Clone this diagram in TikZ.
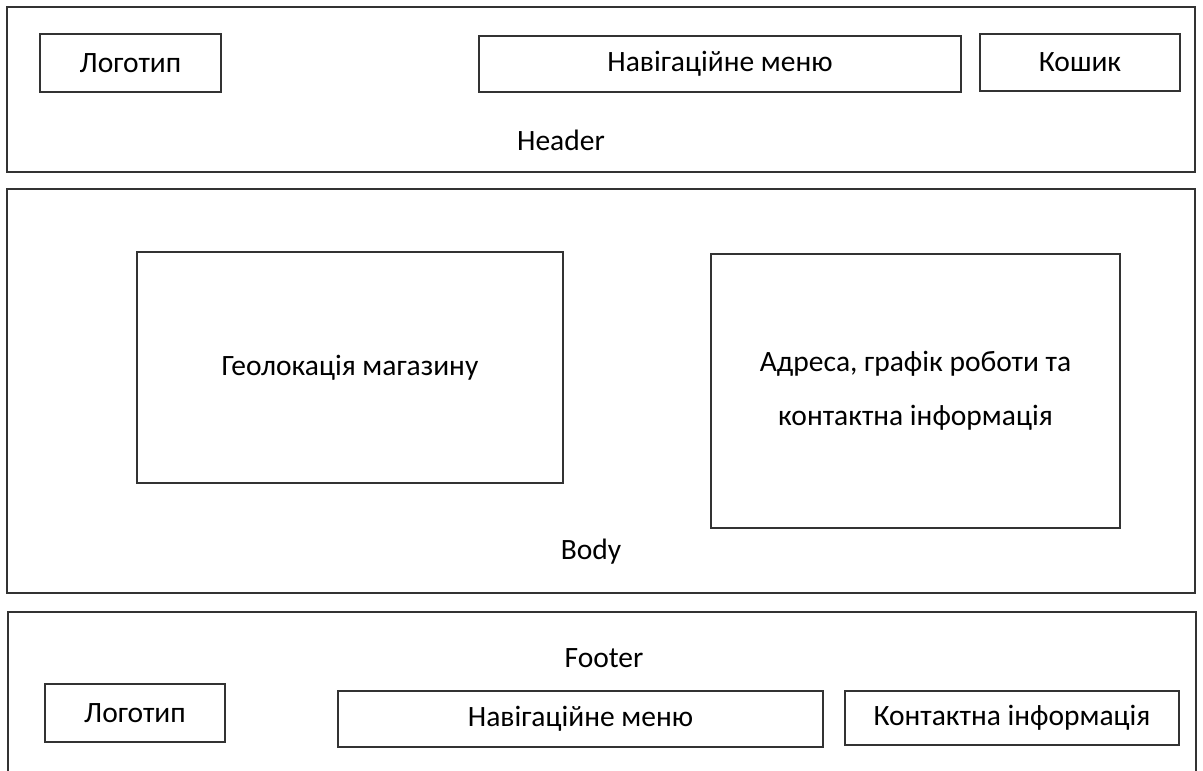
\documentclass[tikz,border=0pt]{standalone}
\usepackage{fontspec}
\setmainfont{Carlito}
\tikzset{
	panel/.style={draw=black!80, line width=1.1pt, inner sep=0pt},
	block/.style={draw=black!80, line width=1.1pt, inner sep=0pt, align=center,
		font=\fontsize{29.5}{54}\selectfont},
	caption/.style={font=\fontsize{29.5}{34}\selectfont}
}
\begin{document}
\begin{tikzpicture}[x=1pt, y=-1pt]
	\useasboundingbox (0,0) rectangle (1203,771);
	% header
	\node[panel, minimum width=1188, minimum height=165] (header) at (601,89.5) {};
	\node[block, minimum width=181, minimum height=58] (logoH) at (130.5,63) {Логотип};
	\node[block, minimum width=482, minimum height=56] (navH) at (720,64) {Навігаційне меню};
	\node[block, minimum width=200, minimum height=57] (cart) at (1080,62.5) {Кошик};
	\node[caption] (headerLbl) at (561,140) {Header};
	% body
	\node[panel, minimum width=1188, minimum height=404] (body) at (601,391) {};
	\node[block, minimum width=426, minimum height=231] (geo) at (350,367.5) {Геолокація магазину};
	\node[block, minimum width=409, minimum height=274] (addr) at (915.5,391) {Адреса, графік роботи та\\контактна інформація};
	\node[caption] (bodyLbl) at (591,552) {Body};
	% footer
	\draw[draw=black!80, line width=1.1pt] (8,775) |- (1196,612) -- (1196,775);
	\node[caption] (footerLbl) at (604,658) {Footer};
	\node[block, minimum width=180, minimum height=58] (logoF) at (135,713) {Логотип};
	\node[block, minimum width=485, minimum height=56] (navF) at (580.5,719) {Навігаційне меню};
	\node[block, minimum width=334, minimum height=54] (contact) at (1012,718) {Контактна інформація};
\end{tikzpicture}
\end{document}
